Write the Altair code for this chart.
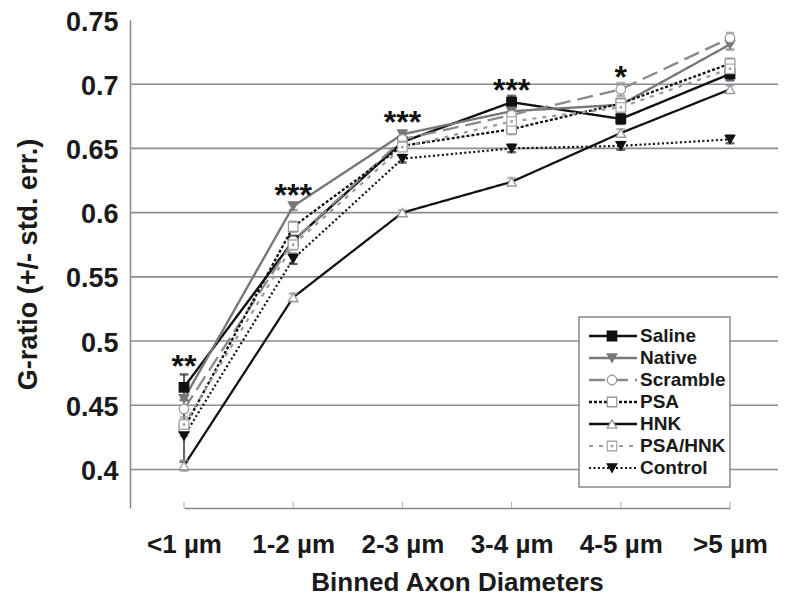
import altair as alt
import pandas as pd

# ---------------- data ----------------
categories = ["<1 µm", "1-2 µm", "2-3 µm", "3-4 µm", "4-5 µm", ">5 µm"]
series_names = ["Saline", "Native", "Scramble", "PSA", "HNK", "PSA/HNK", "Control"]

saline = [0.464, 0.578, 0.655, 0.686, 0.673, 0.708]
native = [0.455, 0.605, 0.661, 0.679, 0.684, 0.731]
scramble = [0.447, 0.578, 0.657, 0.676, 0.696, 0.736]
psa = [0.432, 0.589, 0.652, 0.665, 0.685, 0.716]
hnk = [0.403, 0.534, 0.600, 0.624, 0.662, 0.696]
psa_hnk = [0.435, 0.575, 0.651, 0.671, 0.682, 0.712]
control = [0.426, 0.564, 0.642, 0.650, 0.652, 0.657]

saline_se = [0.010, 0.004, 0.003, 0.005, 0.004, 0.005]
native_se = [0.008, 0.003, 0.003, 0.004, 0.004, 0.004]
scramble_se = [0.008, 0.003, 0.003, 0.004, 0.005, 0.004]
psa_se = [0.006, 0.004, 0.003, 0.004, 0.004, 0.004]
hnk_se = [0.004, 0.003, 0.002, 0.003, 0.003, 0.003]
psa_hnk_se = [0.006, 0.004, 0.003, 0.004, 0.004, 0.004]
control_se = [0.020, 0.004, 0.003, 0.003, 0.003, 0.003]

sig_labels = ["**", "***", "***", "***", "*", ""]
sig_y = [0.4854, 0.6185, 0.6754, 0.700, 0.710, 0.0]

grid_values = [0.40, 0.45, 0.50, 0.55, 0.60, 0.65, 0.70]
tick_values = [0.40, 0.45, 0.50, 0.55, 0.60, 0.65, 0.70, 0.75]

# ---------------- styling ----------------
W, H = 648, 488
FONT = "Liberation Sans"

line_colors = ["#111111", "#777777", "#8a8a8a", "#111111", "#111111", "#9a9a9a", "#111111"]
dashes = [[1, 0], [1, 0], [16, 7], [3, 2], [1, 0], [4, 6], [2, 2.5]]
widths = [2.4, 2.2, 2.4, 2.8, 2.4, 3.0, 2.6]
shapes = ["square", "triangle-down", "circle", "square", "triangle-up", "square", "triangle-down"]
fills = ["#111111", "#777777", "#ffffff", "#ffffff", "#ffffff", "#ffffff", "#111111"]
strokes = ["#111111", "#777777", "#999999", "#999999", "#999999", "#aaaaaa", "#111111"]

vals = dict(zip(series_names, [saline, native, scramble, psa, hnk, psa_hnk, control]))
ses = dict(zip(series_names, [saline_se, native_se, scramble_se, psa_se, hnk_se, psa_hnk_se, control_se]))

rows = []
for s in series_names:
    for i, c in enumerate(categories):
        v, e = vals[s][i], ses[s][i]
        rows.append({"series": s, "cat": c, "idx": i, "value": v, "lo": v - e, "hi": v + e})
df = pd.DataFrame(rows)

sig_df = pd.DataFrame({"cat": categories, "label": sig_labels, "y": sig_y})
sig_df = sig_df[sig_df["label"] != ""]
grid_df = pd.DataFrame({"value": grid_values})
cat_df = pd.DataFrame({"cat": categories})
legend_df = pd.DataFrame({"series": series_names, "row": list(range(len(series_names)))})

x_scale = alt.Scale(type="point", domain=categories, range=[54, 600], padding=0)
y_scale = alt.Scale(domain=[0.37, 0.75], nice=False, zero=False)

color_enc = alt.Color("series:N", scale=alt.Scale(domain=series_names, range=line_colors), legend=None)
dash_enc = alt.StrokeDash("series:N", scale=alt.Scale(domain=series_names, range=dashes), legend=None)
width_enc = alt.StrokeWidth("series:N", scale=alt.Scale(domain=series_names, range=widths), legend=None)
shape_enc = alt.Shape("series:N", scale=alt.Scale(domain=series_names, range=shapes), legend=None)
fill_enc = alt.Fill("series:N", scale=alt.Scale(domain=series_names, range=fills), legend=None)
stroke_enc = alt.Stroke("series:N", scale=alt.Scale(domain=series_names, range=strokes), legend=None)

x_axis = alt.Axis(
    title="Binned Axon Diameters", labelFontSize=26, labelFontWeight="bold",
    labelFont=FONT, labelColor="#1a1a1a", labelAngle=0, ticks=False, labelPadding=36,
    labelBaseline="middle", domainColor="#888888", domainWidth=1.5, grid=False,
    titleFontSize=26, titleFontWeight="bold", titleFont=FONT, titleColor="#1a1a1a",
    titleY=74, titleBaseline="middle",
)
y_axis = alt.Axis(
    title="G-ratio (+/- std. err.)", values=tick_values, format="~g", grid=False,
    ticks=False, labelFontSize=27, labelFontWeight="bold", labelFont=FONT,
    labelColor="#1a1a1a", labelPadding=12, labelBaseline="middle", labelOffset=2,
    domainColor="#888888", domainWidth=1.5,
    titleFontSize=27, titleFontWeight="bold", titleFont=FONT, titleColor="#1a1a1a",
    titleX=-102, titleY=H / 2, titleAngle=-90, titleBaseline="middle", titleAlign="center",
)


def X(field="cat"):
    return alt.X(f"{field}:N", scale=x_scale, sort=categories, axis=x_axis)


def Y(field="value"):
    return alt.Y(f"{field}:Q", scale=y_scale, axis=y_axis)


grid = alt.Chart(grid_df).mark_rule(color="#8c8c8c", strokeWidth=1.6).encode(
    y=Y("value"), x=alt.value(0), x2=alt.value(W)
)

xticks = alt.Chart(cat_df).mark_rule(color="#aaaaaa", strokeWidth=1).encode(
    x=X(), y=alt.value(H - 6), y2=alt.value(H),
)

base = alt.Chart(df)

lines = base.mark_line().encode(
    x=X(), y=Y(), color=color_enc, strokeDash=dash_enc, strokeWidth=width_enc,
    order=alt.Order("idx:Q"),
)

ebars = base.mark_rule(strokeWidth=1.3).encode(
    x=X(), y=Y("lo"), y2="hi:Q", stroke=stroke_enc,
)
cap_lo = base.mark_tick(thickness=1.3, size=8).encode(x=X(), y=Y("lo"), stroke=stroke_enc)
cap_hi = base.mark_tick(thickness=1.3, size=8).encode(x=X(), y=Y("hi"), stroke=stroke_enc)

points = base.mark_point(opacity=1, fillOpacity=1, strokeWidth=1.3, size=90).encode(
    x=X(), y=Y(), shape=shape_enc, fill=fill_enc, stroke=stroke_enc,
)
dots = base.transform_filter(alt.datum.series == "PSA/HNK").mark_point(
    shape="square", filled=True, color="#999999", size=6, opacity=1
).encode(x=X(), y=Y())

sig = alt.Chart(sig_df).mark_text(
    font=FONT, fontSize=32, fontWeight="bold", color="#111111", baseline="middle", dy=7
).encode(x=X(), y=Y("y"), text="label:N")

# ---------------- legend ----------------
legend_box = alt.Chart(pd.DataFrame({"k": [0]})).mark_rect(
    fill="white", stroke="#888888", strokeWidth=1.5
).encode(x=alt.value(449), x2=alt.value(600), y=alt.value(297), y2=alt.value(467))

leg = alt.Chart(legend_df).transform_calculate(ly="316 + datum.row * 22")
leg_lines = leg.mark_rule().encode(
    x=alt.value(459), x2=alt.value(507), y=alt.Y("ly:Q", scale=None),
    color=color_enc, strokeDash=dash_enc, strokeWidth=width_enc,
)
leg_points = leg.mark_point(opacity=1, fillOpacity=1, strokeWidth=1.3, size=90).encode(
    x=alt.value(482), y=alt.Y("ly:Q", scale=None),
    shape=shape_enc, fill=fill_enc, stroke=stroke_enc,
)
leg_dot = leg.transform_filter(alt.datum.series == "PSA/HNK").mark_point(
    shape="square", filled=True, color="#999999", size=6, opacity=1
).encode(x=alt.value(482), y=alt.Y("ly:Q", scale=None))
leg_text = leg.mark_text(
    font=FONT, fontSize=19, fontWeight="bold", align="left", baseline="middle", color="#1a1a1a"
).encode(x=alt.value(510), y=alt.Y("ly:Q", scale=None), text="series:N")

chart = alt.layer(
    grid, xticks, lines, ebars, cap_lo, cap_hi, points, dots, sig,
    legend_box, leg_lines, leg_points, leg_dot, leg_text,
).properties(
    width=W, height=H,
    autosize=alt.AutoSizeParams(type="none"),
    padding={"left": 122, "top": 12, "right": 0, "bottom": 88},
    background="white",
).configure_view(stroke=None)

chart.save("out.html", embed_options={"renderer": "svg", "actions": False})
